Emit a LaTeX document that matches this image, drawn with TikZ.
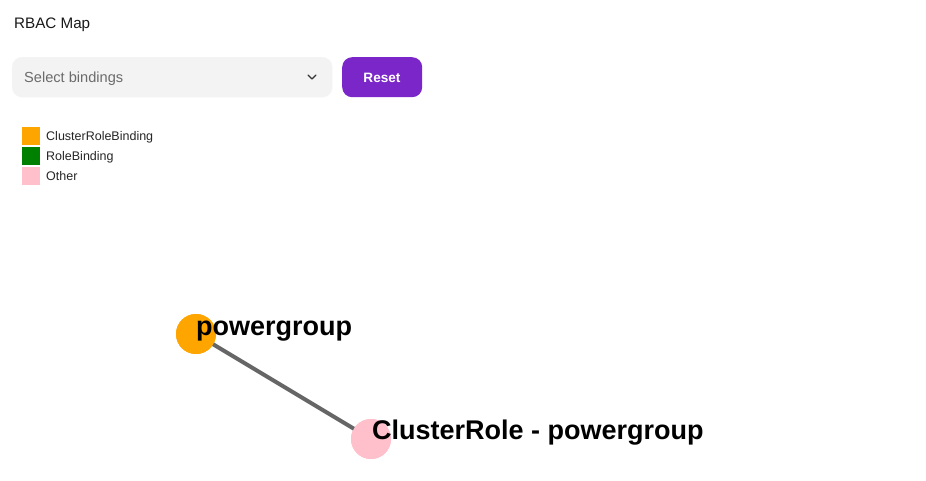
\documentclass[tikz,border=0pt]{standalone}
\usepackage{fontspec}
\setmainfont{Liberation Sans}
\definecolor{orangec}{HTML}{FFA500}
\definecolor{greenc}{HTML}{008000}
\definecolor{pinkc}{HTML}{FFC0CB}
\definecolor{purplec}{HTML}{7B26C9}
\definecolor{boxgray}{HTML}{F3F3F3}
\definecolor{edgegray}{HTML}{666666}
\definecolor{hintgray}{HTML}{6B6B6B}
\begin{document}
\begin{tikzpicture}[x=1pt,y=-1pt,
  lbl/.style={anchor=base west,inner sep=0pt,font=\fontsize{27}{30}\selectfont\bfseries},
  legsq/.style={minimum size=18pt,inner sep=0pt,anchor=north west},
  legtxt/.style={anchor=base west,inner sep=0pt,font=\fontsize{12.5}{14}\selectfont,text=black!85},
  gnode/.style={circle,minimum size=40pt,inner sep=0pt}]
\useasboundingbox[fill=white] (0,0) rectangle (926,480);
\node[anchor=base west,inner sep=0pt,font=\fontsize{15.2}{18}\selectfont,text=black!90] (title) at (14,28) {RBAC Map};
\node[draw=black!4,fill=boxgray,rounded corners=10pt,minimum width=320pt,minimum height=40pt,anchor=north west] (sel) at (12,57) {};
\node[anchor=base west,inner sep=0pt,font=\fontsize{14.6}{17}\selectfont,text=hintgray] (seltxt) at (24,82) {Select bindings};
\coordinate (chev) at (312,77);
\draw[line width=1.2pt,line cap=round,line join=round,black!80] ([xshift=-4pt,yshift=2pt]chev) -- ([yshift=-2pt]chev) -- ([xshift=4pt,yshift=2pt]chev);
\node[fill=purplec,rounded corners=10pt,minimum width=80pt,minimum height=40pt,anchor=north west] (reset) at (342,57) {};
\node[anchor=base,inner sep=0pt,font=\fontsize{13.6}{16}\selectfont\bfseries,text=white] (resettxt) at (382,82) {Reset};
\node[legsq,fill=orangec] (sq1) at (22,127) {};
\node[legsq,fill=greenc] (sq2) at (22,147) {};
\node[legsq,fill=pinkc] (sq3) at (22,167) {};
\node[legtxt] (t1) at (46,140.5) {ClusterRoleBinding};
\node[legtxt] (t2) at (46,160.5) {RoleBinding};
\node[legtxt] (t3) at (46,180.5) {Other};
\node[gnode,fill=orangec] (pg) at (196,334) {};
\node[gnode,fill=pinkc] (cr) at (371,439) {};
\draw[edgegray,line width=4pt] (pg.center) -- (cr.center);
\node[gnode,fill=orangec] at (pg.center) {};
\node[gnode,fill=pinkc] at (cr.center) {};
\node[lbl] (pgl) at (196,335) {powergroup};
\node[lbl] (crl) at (372,439) {ClusterRole - powergroup};
\end{tikzpicture}
\end{document}
